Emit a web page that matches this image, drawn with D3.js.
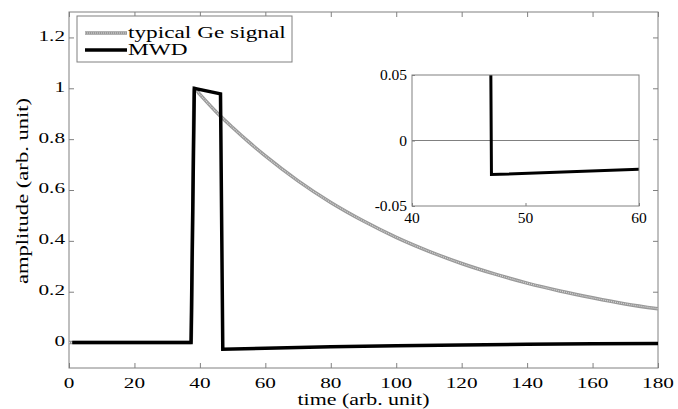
<!DOCTYPE html>
<html>
<head>
<meta charset="utf-8">
<script src="https://cdn.jsdelivr.net/npm/d3@7"></script>
<style>
  body { margin: 0; background: #fff; }
  svg text { font-family: "Liberation Serif", "Times New Roman", serif; fill: #000; }
  .frame { fill: none; stroke: #808080; stroke-width: 1; }
  .tick line { stroke: #808080; }
  .domain { display: none; }
</style>
</head>
<body>
<svg class="graph" width="678" height="409"></svg>
<script>
// typical Ge signal
var geTime = [0, 37.3, 38.3, 40, 45, 50, 55, 60, 70, 80, 90, 100, 110, 120, 130, 140, 150, 160, 170, 180];
var geAmp  = [0, 0, 1.0, 0.976, 0.907, 0.846, 0.788, 0.734, 0.636, 0.551, 0.478, 0.414, 0.359, 0.311, 0.270, 0.234, 0.203, 0.176, 0.152, 0.133];

// MWD output
var mwdTime = [1, 37.3, 38.3, 46.3, 47, 60, 80, 100, 120, 140, 160, 180];
var mwdAmp  = [0, 0, 1.0, 0.978, -0.026, -0.022, -0.0165, -0.0125, -0.0095, -0.007, -0.005, -0.004];

var xTicks = [0, 20, 40, 60, 80, 100, 120, 140, 160, 180];
var yTicks = [0, 0.2, 0.4, 0.6, 0.8, 1, 1.2];
var yLabels = ["0", "0.2", "0.4", "0.6", "0.8", "1", "1.2"];
var insetXTicks = [40, 50, 60];
var insetYTicks = [-0.05, 0, 0.05];
var insetYLabels = ["-0.05", "0", "0.05"];
var legendNames = ["typical Ge signal", "MWD"];

var svg = d3.select("svg.graph");
var stretch = 1.37; // the reference glyphs are wide

var m = { left: 69, right: 658, top: 12, bottom: 368 };
var x = d3.scaleLinear().domain([0, 180]).range([m.left, m.right]);
var y = d3.scaleLinear().domain([-0.1, 1.3]).range([m.bottom, m.top]);

svg.append("clipPath").attr("id", "clipMain")
  .append("rect").attr("x", m.left).attr("y", m.top)
  .attr("width", m.right - m.left).attr("height", m.bottom - m.top);

// ticks on all four sides, pointing in
svg.append("g").attr("transform", "translate(0," + m.bottom + ")")
  .call(d3.axisBottom(x).tickValues(xTicks).tickSize(-5).tickFormat(""));
svg.append("g").attr("transform", "translate(0," + m.top + ")")
  .call(d3.axisTop(x).tickValues(xTicks).tickSize(-5).tickFormat(""));
svg.append("g").attr("transform", "translate(" + m.left + ",0)")
  .call(d3.axisLeft(y).tickValues(yTicks).tickSize(-5).tickFormat(""));
svg.append("g").attr("transform", "translate(" + m.right + ",0)")
  .call(d3.axisRight(y).tickValues(yTicks).tickSize(-5).tickFormat(""));

svg.append("rect").attr("class", "frame")
  .attr("x", m.left).attr("y", m.top)
  .attr("width", m.right - m.left).attr("height", m.bottom - m.top);

// tick labels
svg.selectAll(".xlab").data(xTicks).enter().append("text")
  .attr("class", "xlab")
  .attr("transform", function (d) { return "translate(" + x(d) + ",388) scale(" + stretch + ",1)"; })
  .attr("text-anchor", "middle").style("font-size", "15.5px")
  .text(function (d) { return d; });

svg.selectAll(".ylab").data(yTicks).enter().append("text")
  .attr("class", "ylab")
  .attr("transform", function (d) { return "translate(65," + y(d) + ") scale(" + stretch + ",1)"; })
  .attr("dy", "0.22em")
  .attr("text-anchor", "end").style("font-size", "15.5px")
  .text(function (d, i) { return yLabels[i]; });

svg.append("text")
  .attr("transform", "translate(" + ((m.left + m.right) / 2) + ",405) scale(" + stretch + ",1)")
  .attr("text-anchor", "middle").style("font-size", "16px")
  .text("time (arb. unit)");

svg.append("text")
  .attr("transform", "translate(28," + ((m.top + m.bottom) / 2 + 1) + ") rotate(-90) scale(" + stretch + ",1)")
  .attr("text-anchor", "middle").style("font-size", "16.5px")
  .text("amplitude (arb. unit)");

// lines
var line = d3.line()
  .x(function (d) { return x(d[0]); })
  .y(function (d) { return y(d[1]); });

var geData = d3.zip(geTime, geAmp);
var mwdData = d3.zip(mwdTime, mwdAmp);

var plot = svg.append("g").attr("clip-path", "url(#clipMain)");
plot.append("path").datum(geData)
  .attr("d", line.curve(d3.curveMonotoneX))
  .attr("fill", "none").attr("stroke", "#999").attr("stroke-width", 3.5);
plot.append("path").datum(geData)
  .attr("d", line.curve(d3.curveMonotoneX))
  .attr("fill", "none").attr("stroke", "#d8d8d8").attr("stroke-width", 1.2)
  .attr("stroke-dasharray", "1,1");
plot.append("path").datum(mwdData)
  .attr("d", line.curve(d3.curveLinear))
  .attr("fill", "none").attr("stroke", "#000").attr("stroke-width", 3.5)
  .attr("stroke-linejoin", "miter");

// legend
var leg = svg.append("g");
leg.append("rect").attr("x", 77).attr("y", 16).attr("width", 215).attr("height", 46)
  .attr("fill", "#fff").attr("stroke", "#808080");
leg.append("line").attr("x1", 85).attr("x2", 127).attr("y1", 33).attr("y2", 33)
  .attr("stroke", "#999").attr("stroke-width", 3.5);
leg.append("line").attr("x1", 85).attr("x2", 127).attr("y1", 33).attr("y2", 33)
  .attr("stroke", "#d8d8d8").attr("stroke-width", 1.2).attr("stroke-dasharray", "1,1");
leg.append("line").attr("x1", 85).attr("x2", 127).attr("y1", 50).attr("y2", 50)
  .attr("stroke", "#000").attr("stroke-width", 3.5);
leg.selectAll("text.leg").data(legendNames).enter().append("text")
  .attr("class", "leg")
  .attr("transform", function (d, i) { return "translate(128," + (33 + i * 17) + ") scale(" + stretch + ",1)"; })
  .attr("dy", "0.3em").style("font-size", "17px")
  .text(function (d) { return d; });

// inset
var im = { left: 412, right: 639, top: 75, bottom: 206 };
var ix = d3.scaleLinear().domain([40, 60]).range([im.left, im.right]);
var iy = d3.scaleLinear().domain([-0.05, 0.05]).range([im.bottom, im.top]);

svg.append("clipPath").attr("id", "clipInset")
  .append("rect").attr("x", im.left).attr("y", im.top)
  .attr("width", im.right - im.left).attr("height", im.bottom - im.top);

svg.append("rect").attr("x", im.left).attr("y", im.top)
  .attr("width", im.right - im.left).attr("height", im.bottom - im.top)
  .attr("fill", "#fff").attr("stroke", "none");

svg.append("g").attr("transform", "translate(0," + im.bottom + ")")
  .call(d3.axisBottom(ix).tickValues(insetXTicks).tickSize(-3).tickFormat(""));
svg.append("g").attr("transform", "translate(" + im.left + ",0)")
  .call(d3.axisLeft(iy).tickValues(insetYTicks).tickSize(-3).tickFormat(""));

svg.append("line").attr("x1", im.left).attr("x2", im.right)
  .attr("y1", iy(0)).attr("y2", iy(0))
  .attr("stroke", "#808080").attr("stroke-width", 1);

var iline = d3.line()
  .x(function (d) { return ix(d[0]); })
  .y(function (d) { return iy(d[1]); });
svg.append("g").attr("clip-path", "url(#clipInset)")
  .append("path").datum(mwdData)
  .attr("d", iline)
  .attr("fill", "none").attr("stroke", "#000").attr("stroke-width", 3)
  .attr("stroke-linejoin", "miter");

svg.append("rect").attr("class", "frame")
  .attr("x", im.left).attr("y", im.top)
  .attr("width", im.right - im.left).attr("height", im.bottom - im.top);

svg.selectAll(".ixlab").data(insetXTicks).enter().append("text")
  .attr("class", "ixlab")
  .attr("x", function (d) { return ix(d); }).attr("y", 223)
  .attr("text-anchor", "middle").style("font-size", "15.5px")
  .text(function (d) { return d; });

svg.selectAll(".iylab").data(insetYTicks).enter().append("text")
  .attr("class", "iylab")
  .attr("x", 407).attr("y", function (d) { return iy(d); })
  .attr("dy", "0.33em")
  .attr("text-anchor", "end").style("font-size", "15.5px")
  .text(function (d, i) { return insetYLabels[i]; });
</script>
</body>
</html>
